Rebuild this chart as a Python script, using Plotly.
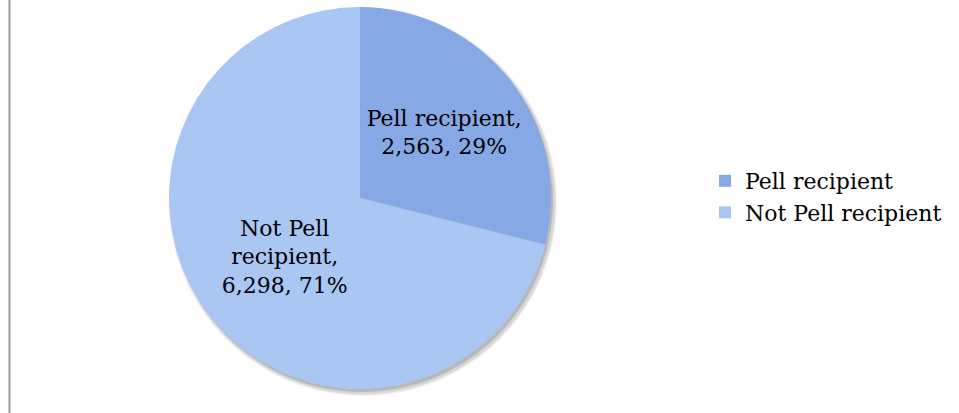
import plotly.graph_objects as go

# Enrollment split by Pell grant status
categories = ["Pell recipient", "Not Pell recipient"]
students = [2563, 6298]
slice_text = ["Pell recipient,", "Not Pell<br>recipient,"]

W, H = 959, 413
cx, cy, r = 360, 198, 191  # pie centre and radius in pixels (from top-left)


def dom(dx=0, dy=0, grow=0):
    x0 = (cx - r - grow + dx) / W
    x1 = (cx + r + grow + dx) / W
    y0 = (H - cy - r - grow - dy) / H
    y1 = (H - cy + r + grow - dy) / H
    return dict(x=[x0, x1], y=[y0, y1])


fig = go.Figure()

# soft drop shadow behind the pie
for grow, alpha, dx, dy in [(3, 0.06, 3, 4), (1.5, 0.10, 3, 4), (0, 0.14, 2, 3)]:
    fig.add_trace(go.Pie(
        values=[sum(students)],
        labels=["shadow"],
        domain=dom(dx, dy, grow),
        marker=dict(colors=[f"rgba(0,0,0,{alpha})"], line=dict(width=0)),
        textinfo="none",
        hoverinfo="skip",
        showlegend=False,
        sort=False,
    ))

fig.add_trace(go.Pie(
    labels=categories,
    values=students,
    text=slice_text,
    texttemplate="%{text}<br>%{value:,}, %{percent:.0%}",
    textposition="inside",
    insidetextorientation="horizontal",
    textfont=dict(family="DejaVu Serif", size=22, color="black"),
    marker=dict(colors=["#86a9e5", "#aac6f3"], line=dict(width=0)),
    domain=dom(),
    sort=False,
    direction="clockwise",
    rotation=0,
    hoverinfo="label+value+percent",
))

fig.update_layout(
    width=W,
    height=H,
    margin=dict(l=0, r=0, t=0, b=0),
    paper_bgcolor="white",
    plot_bgcolor="white",
    showlegend=True,
    legend=dict(
        x=705 / W,
        y=(H - 197) / H,
        xanchor="left",
        yanchor="middle",
        font=dict(family="DejaVu Serif", size=22, color="black"),
        bgcolor="rgba(0,0,0,0)",
    ),
    shapes=[dict(
        type="line", xref="paper", yref="paper",
        x0=9.5 / W, x1=9.5 / W, y0=0, y1=1,
        line=dict(color="#9a9a9a", width=2),
    )],
)

fig.write_html("out.html")
